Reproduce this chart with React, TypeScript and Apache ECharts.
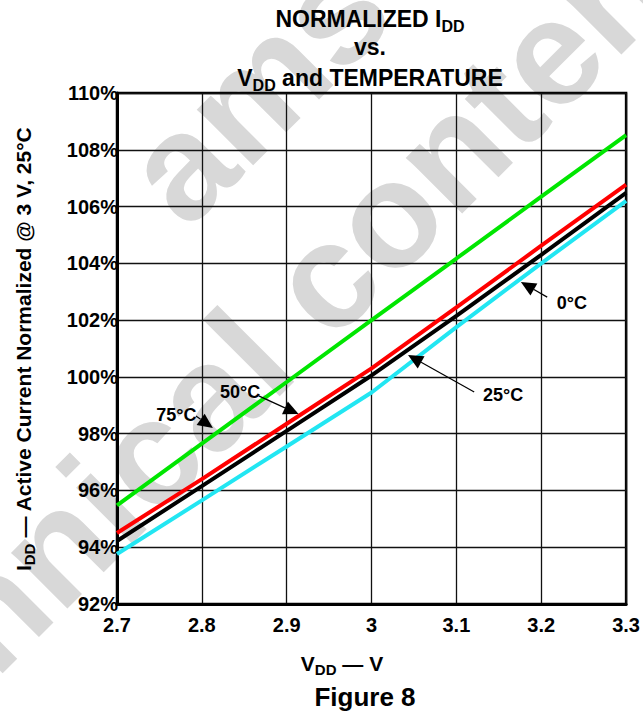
import React, { useEffect, useRef } from 'react';
import * as echarts from 'echarts';

// ---- data ----
const voltages = [2.7, 2.8, 2.9, 3.0, 3.1, 3.2, 3.3];
const temp75 = [95.47, 97.65, 99.82, 102.0, 104.17, 106.35, 108.52];
const temp50 = [94.5, 96.4, 98.35, 100.3, 102.45, 104.62, 106.77];
const temp25 = [94.22, 96.15, 98.1, 100.05, 102.15, 104.3, 106.48];
const temp0 = [93.76, 95.65, 97.55, 99.45, 101.75, 104.0, 106.2];

const seriesNames = ['75°C', '50°C', '25°C', '0°C'];
const seriesColors = ['#00e600', '#ff0000', '#000000', '#22e6f2'];

// annotation callouts: label, text centre, arrow start, arrow tip (data coords)
const annotations = [
  { label: '75°C', text: [2.77, 98.66], from: [2.793, 98.62], tip: [2.813, 98.2] },
  { label: '50°C', text: [2.845, 99.47], from: [2.867, 99.33], tip: [2.914, 98.69] },
  { label: '25°C', text: [3.155, 99.36], from: [3.121, 99.47], tip: [3.043, 100.77] },
  { label: '0°C', text: [3.236, 102.6], from: [3.207, 102.81], tip: [3.176, 103.34] },
];

const FONT = '"Liberation Sans", Arial, Helvetica, sans-serif';

export default function App() {
  const ref = useRef<HTMLDivElement>(null);

  useEffect(() => {
    const chart = echarts.init(ref.current!, null, { renderer: 'svg' });
    const allData = [temp75, temp50, temp25, temp0];
    const series = allData
      .map((d, k) => ({
        type: 'line',
        name: seriesNames[k],
        data: voltages.map((v, i) => [v, d[i]]),
        symbol: 'none',
        showSymbol: false,
        lineStyle: { color: seriesColors[k], width: 4 },
        itemStyle: { color: seriesColors[k] },
        z: 3,
      }))
      .reverse();

    chart.setOption({
      animation: false,
      backgroundColor: '#ffffff',
      grid: {
        left: 117,
        top: 93,
        right: 14,
        bottom: 113,
        show: true,
        borderColor: '#000',
        borderWidth: 2.5,
        containLabel: false,
      },
      xAxis: {
        type: 'value',
        min: 2.7,
        max: 3.3,
        interval: 0.1,
        axisLine: { show: true, onZero: false, lineStyle: { color: '#000', width: 3 } },
        axisTick: { show: false },
        splitLine: { show: true, lineStyle: { color: '#111', width: 1.3 } },
        axisLabel: {
          margin: 11,
          color: '#000',
          fontFamily: FONT,
          fontWeight: 'bold',
          fontSize: 20,
          formatter: (v: number) => String(Number(v.toFixed(1))),
        },
      },
      yAxis: {
        type: 'value',
        min: 92,
        max: 110,
        interval: 2,
        axisLine: { show: true, onZero: false, lineStyle: { color: '#000', width: 3 } },
        axisTick: { show: false },
        splitLine: { show: true, lineStyle: { color: '#111', width: 1.3 } },
        axisLabel: {
          margin: -1,
          color: '#000',
          fontFamily: FONT,
          fontWeight: 'bold',
          fontSize: 20,
          formatter: (v: number) => `${Math.round(v)}%`,
        },
      },
      series,
    });

    const toPx = (p: number[]) => chart.convertToPixel({ gridIndex: 0 }, p) as number[];

    const graphics: any[] = [];

    // watermark
    const wmFont = 150;
    graphics.push({
      type: 'group',
      x: 287,
      y: 389,
      rotation: (45 * Math.PI) / 180,
      silent: true,
      z: -10,
      children: [
        {
          type: 'text',
          x: -4.196 * wmFont,
          y: -0.347 * wmFont,
          z: -10,
          style: {
            text: 'technical content',
            fontFamily: FONT,
            fontWeight: 'bold',
            fontSize: wmFont,
            fill: '#d8d8d8',
            align: 'left',
            verticalAlign: 'middle',
          },
        },
        {
          type: 'text',
          x: 82 - 0.278 * wmFont,
          y: -182 - 0.347 * wmFont,
          z: -10,
          style: {
            text: 'ams',
            fontFamily: FONT,
            fontWeight: 'bold',
            fontSize: wmFont,
            fill: '#d8d8d8',
            align: 'left',
            verticalAlign: 'middle',
          },
        },
      ],
    });

    const titleStyle = (text: string, size: number, subSize: number, lh: number) => ({
      text,
      fontFamily: FONT,
      fontWeight: 'bold',
      fontSize: size,
      lineHeight: lh,
      fill: '#000',
      align: 'center',
      verticalAlign: 'middle',
      rich: {
        sub: {
          fontFamily: FONT,
          fontWeight: 'bold',
          fontSize: subSize,
          lineHeight: subSize,
          verticalAlign: 'bottom',
          fill: '#000',
        },
      },
    });

    // title
    graphics.push({ type: 'text', x: 370, y: 19, z: 10, style: titleStyle('NORMALIZED I{sub|DD}', 23, 16, 30) });
    graphics.push({ type: 'text', x: 370, y: 47, z: 10, style: titleStyle('vs.', 23, 16, 30) });
    graphics.push({ type: 'text', x: 370, y: 78, z: 10, style: titleStyle('V{sub|DD} and TEMPERATURE', 23, 16, 30) });

    // axis names
    graphics.push({
      type: 'text',
      x: 23,
      y: 349,
      rotation: Math.PI / 2,
      z: 10,
      style: titleStyle('I{sub|DD} — Active Current Normalized @ 3 V, 25°C', 21, 15, 27),
    });
    graphics.push({ type: 'text', x: 342, y: 663, z: 10, style: titleStyle('V{sub|DD} — V', 21, 15, 27) });
    graphics.push({ type: 'text', x: 365, y: 697, z: 10, style: titleStyle('Figure 8', 26, 18, 30) });

    // callouts
    annotations.forEach((a) => {
      const t = toPx(a.text);
      const f = toPx(a.from);
      const tip = toPx(a.tip);
      const dx = tip[0] - f[0];
      const dy = tip[1] - f[1];
      const len = Math.sqrt(dx * dx + dy * dy) || 1;
      const ux = dx / len;
      const uy = dy / len;
      const headL = 15;
      const headW = 7;
      const bx = tip[0] - ux * headL;
      const by = tip[1] - uy * headL;
      graphics.push({
        type: 'line',
        z: 20,
        shape: { x1: f[0], y1: f[1], x2: bx, y2: by },
        style: { stroke: '#000', lineWidth: 1.2 },
      });
      graphics.push({
        type: 'polygon',
        z: 20,
        shape: {
          points: [
            [tip[0], tip[1]],
            [bx - uy * headW, by + ux * headW],
            [bx + uy * headW, by - ux * headW],
          ],
        },
        style: { fill: '#000' },
      });
      graphics.push({
        type: 'text',
        x: t[0],
        y: t[1],
        z: 20,
        style: {
          text: a.label,
          fontFamily: FONT,
          fontWeight: 'bold',
          fontSize: 18,
          fill: '#000',
          align: 'center',
          verticalAlign: 'middle',
        },
      });
    });

    chart.setOption({ graphic: graphics });

    return () => chart.dispose();
  }, []);

  return (
    <div
      ref={ref}
      style={{ position: 'fixed', left: 0, top: 0, width: 643, height: 717, background: '#fff' }}
    />
  );
}
